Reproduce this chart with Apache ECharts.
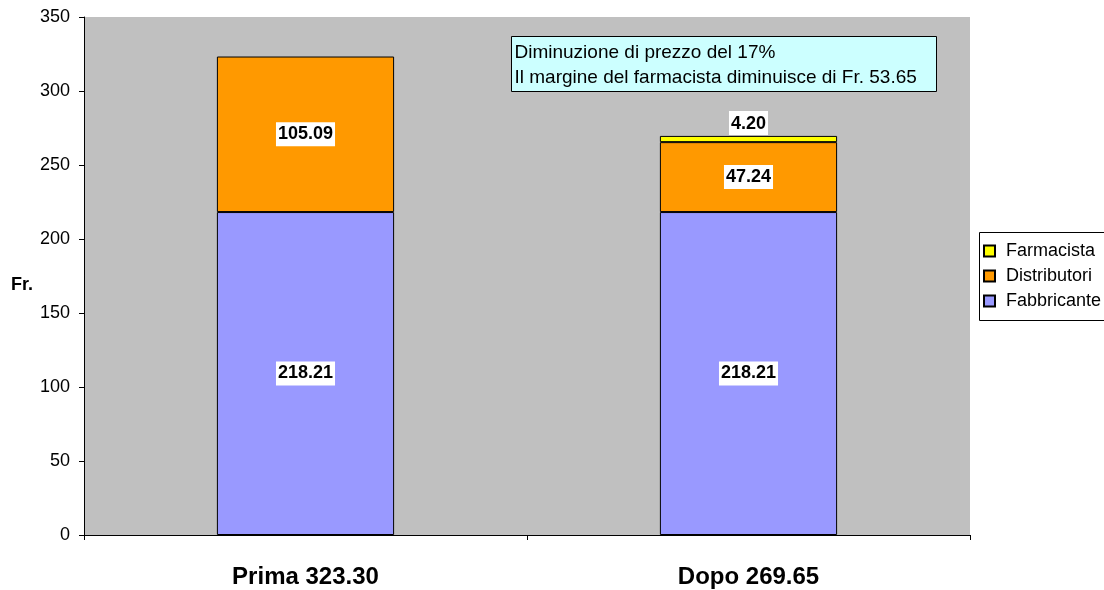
<!DOCTYPE html>
<html><head><meta charset="utf-8">
<script src="https://cdn.jsdelivr.net/npm/echarts@6/dist/echarts.min.js"></script>
<style>html,body{margin:0;padding:0;background:#fff}#c{width:1104px;height:590px}</style>
</head><body><div id="c"></div>
<script>
const categories = ['Prima 323.30', 'Dopo 269.65'];
const fabbricante = [218.21, 218.21];
const distributori = [105.09, 47.24];
const farmacista = [null, 4.20];
const yTicks = [0, 50, 100, 150, 200, 250, 300, 350];
const noteLines = ['Diminuzione di prezzo del 17%', 'Il margine del farmacista diminuisce di Fr. 53.65'];

const F = 'Liberation Sans, Arial, sans-serif';
const lbl = {
  show: true, position: 'inside', color: '#000', fontFamily: F, fontWeight: 'bold', fontSize: 18,
  backgroundColor: '#fff', padding: [4, 2, 2, 2],
  formatter: p => (p.value != null) ? Number(p.value).toFixed(2) : ''
};
const chart = echarts.init(document.getElementById('c'));
chart.setOption({
  animation: false,
  grid: { left: 84, right: 134, top: 17, bottom: 55, show: true, backgroundColor: '#C0C0C0', borderWidth: 0,
    containLabel: false, outerBoundsMode: 'none' },
  legend: {
    orient: 'vertical', left: 979, top: 232, itemWidth: 11, itemHeight: 11, itemGap: 7,
    data: ['Farmacista', 'Distributori', 'Fabbricante'],
    textStyle: { fontFamily: F, fontSize: 18, lineHeight: 18, color: '#000', padding: [0, 0, 0, 6] },
    borderWidth: 0, padding: [10, 0, 10, 4], icon: 'rect'
  },
  xAxis: {
    type: 'category', data: categories,
    axisLine: { lineStyle: { color: '#000' } },
    axisTick: { show: true, length: 5, lineStyle: { color: '#000' } },
    axisLabel: { fontFamily: F, fontWeight: 'bold', fontSize: 24, color: '#000', margin: 30 }
  },
  yAxis: {
    type: 'value', min: 0, max: 350, interval: 50,
    name: 'Fr.', nameLocation: 'middle', nameRotate: 0, nameGap: 51,
    nameTextStyle: { fontFamily: F, fontWeight: 'bold', fontSize: 18, color: '#000', verticalAlign: 'top' },
    axisLine: { show: true, lineStyle: { color: '#000' } },
    axisTick: { show: true, length: 5, lineStyle: { color: '#000' } },
    axisLabel: { fontFamily: F, fontSize: 18, color: '#000', margin: 14,
      formatter: v => yTicks.includes(v) ? String(v) : '' },
    splitLine: { show: false }
  },
  series: [
    { name: 'Fabbricante', type: 'bar', stack: 's', data: fabbricante, barWidth: '40%',
      itemStyle: { color: '#9999FF', borderColor: '#000', borderWidth: 1 }, label: lbl },
    { name: 'Distributori', type: 'bar', stack: 's', data: distributori,
      itemStyle: { color: '#FF9900', borderColor: '#000', borderWidth: 1 }, label: lbl },
    { name: 'Farmacista', type: 'bar', stack: 's', data: farmacista,
      itemStyle: { color: '#FFFF00', borderColor: '#000', borderWidth: 1 },
      label: Object.assign({}, lbl, { position: 'top', distance: 1 }) }
  ],
  graphic: [
    { type: 'rect', x: 979.5, y: 232.5, shape: { x: 0, y: 0, width: 200, height: 88 },
      style: { fill: 'none', stroke: '#000', lineWidth: 1 }, z: 10 },
    {
    type: 'group', left: 511, top: 36,
    children: [
      { type: 'rect', shape: { x: 0, y: 0, width: 425, height: 55 },
        style: { fill: '#CCFFFF', stroke: '#000', lineWidth: 1 } },
      { type: 'text', x: 3, y: 4, style: { text: noteLines.join('\n'), fontFamily: F, fontSize: 19, lineHeight: 25, fill: '#000' } }
    ]
  }]
});
</script></body></html>
